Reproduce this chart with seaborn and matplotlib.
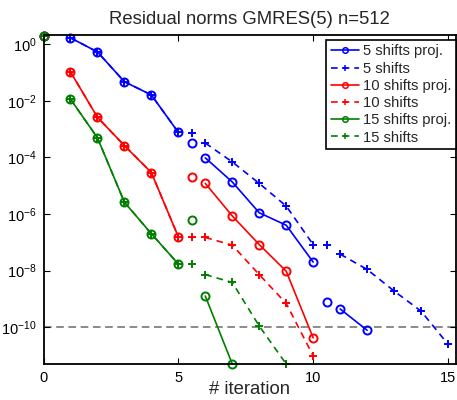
import numpy as np
import pandas as pd
import matplotlib
matplotlib.use("Agg")
import matplotlib.pyplot as plt
from matplotlib.lines import Line2D
from matplotlib.ticker import NullLocator
import seaborn as sns

nan = np.nan

# iteration numbers, NaN marks a break between restart cycles (as in matlab)
it_proj_5 = [0, nan, 1, 2, 3, 4, 5, nan, 5.5, nan, 6, 7, 8, 9, 10, nan, 10.5, nan, 11, 12]
res_proj_5 = [1.9, nan, 1.67, 0.53, 0.047, 0.016, 7.6e-4, nan, 3.1e-4, nan,
              9.6e-5, 1.35e-5, 1.1e-6, 4e-7, 2.0e-8, nan, 7.8e-10, nan, 4.4e-10, 7.8e-11]

it_full_5 = [0, nan, 1, 2, 3, 4, 5, nan, 5.5, nan, 6, 7, 8, 9, 10, nan, 10.5, nan,
             11, 12, 13, 14, 15]
res_full_5 = [1.9, nan, 1.67, 0.53, 0.047, 0.016, 7.6e-4, nan, 7.4e-4, nan,
              3.2e-4, 6.9e-5, 1.2e-5, 1.9e-6, 8.3e-8, nan, 8.3e-8, nan,
              3.8e-8, 1.1e-8, 1.9e-9, 3.7e-10, 2.5e-11]

it_proj_10 = [0, nan, 1, 2, 3, 4, 5, nan, 5.5, nan, 6, 7, 8, 9, 10]
res_proj_10 = [1.9, nan, 0.105, 2.6e-3, 2.6e-4, 2.9e-5, 1.55e-7, nan, 2.0e-5, nan,
               1.2e-5, 8.5e-7, 8.3e-8, 9.5e-9, 4.2e-11]

it_full_10 = [0, nan, 1, 2, 3, 4, 5, nan, 5.5, nan, 6, 7, 8, 9, 10]
res_full_10 = [1.9, nan, 0.105, 2.6e-3, 2.6e-4, 2.9e-5, 1.55e-7, nan, 1.55e-7, nan,
               1.48e-7, 7.9e-8, 7.2e-9, 6.9e-10, 9.7e-12]

it_proj_15 = [0, nan, 1, 2, 3, 4, 5, nan, 5.5, nan, 6, 7]
res_proj_15 = [1.9, nan, 0.0114, 4.9e-4, 2.6e-6, 2.0e-7, 1.7e-8, nan, 6.0e-7, nan,
               1.26e-9, 5e-12]

it_full_15 = [0, nan, 1, 2, 3, 4, 5, nan, 5.5, nan, 6, 7, 8, 9]
res_full_15 = [1.9, nan, 0.0114, 4.9e-4, 2.6e-6, 2.0e-7, 1.7e-8, nan, 1.7e-8, nan,
               7.2e-9, 3.8e-9, 1.1e-10, 5e-12]

tol = 1e-10

labels = ["5 shifts proj.", "5 shifts", "10 shifts proj.", "10 shifts",
          "15 shifts proj.", "15 shifts"]
series = [(it_proj_5, res_proj_5), (it_full_5, res_full_5),
          (it_proj_10, res_proj_10), (it_full_10, res_full_10),
          (it_proj_15, res_proj_15), (it_full_15, res_full_15)]
colors = ["#0000ff", "#0000ff", "#ff0000", "#ff0000", "#007f00", "#007f00"]


def to_frame(it, res):
    it = np.array(it, dtype=float)
    res = np.array(res, dtype=float)
    seg = np.cumsum(np.isnan(it))
    df = pd.DataFrame({"it": it, "res": res, "seg": seg})
    return df.dropna()


sns.set_style("ticks")
plt.rcParams["font.family"] = ["Liberation Sans", "DejaVu Sans"]
plt.rcParams["mathtext.fontset"] = "custom"
plt.rcParams["mathtext.rm"] = "Liberation Sans"
plt.rcParams["mathtext.it"] = "Liberation Sans:italic"

fig = plt.figure(figsize=(4.57, 4.00), dpi=100)
ax = fig.add_axes([0.0952, 0.09, 0.9028, 0.8225])

lw = 1.2
handles = []
for i, ((it, res), lab, col) in enumerate(zip(series, labels, colors)):
    proj = i % 2 == 0
    ls = "-" if proj else (0, (4, 3))
    mk = "o" if proj else "+"
    sns.lineplot(data=to_frame(it, res), x="it", y="res", units="seg",
                 estimator=None, sort=False, ax=ax, legend=False,
                 color=col, linestyle=ls, linewidth=lw, marker=mk,
                 markersize=5.8 if proj else 5.5, markerfacecolor="none",
                 markeredgecolor=col, markeredgewidth=1.4, clip_on=False)
    handles.append(Line2D([], [], color=col, linestyle=ls, linewidth=lw,
                          marker=mk, markersize=4 if proj else 5,
                          markerfacecolor="none", markeredgecolor=col,
                          markeredgewidth=1.1))

ax.axhline(tol, color="0.42", linestyle=(0, (5, 3)), linewidth=1.1, zorder=0)

ax.set_yscale("log")
ax.set_xlim(0, 15.3)
ax.set_ylim(5e-12, 2.1)
ax.set_xticks([0, 5, 10, 15])
ax.set_yticks([1e0, 1e-2, 1e-4, 1e-6, 1e-8, 1e-10])
ax.yaxis.set_minor_locator(NullLocator())
ax.tick_params(direction="in", length=4, width=0.8, top=True, right=True,
               labelsize=10.5, colors="black", pad=5)
for sp in ax.spines.values():
    sp.set_linewidth(1.3)
    sp.set_color("black")
    sp.set_visible(True)

ax.set_title("Residual norms GMRES(5) n=512", fontsize=13.3, pad=8)
ax.set_xlabel("# iteration", fontsize=13.3, labelpad=-2.5)
ax.set_ylabel("")

leg = ax.legend(handles, labels, loc="upper right",
                bbox_to_anchor=(1.0, 1 - 5 / 329), borderaxespad=0,
                fontsize=10.6, frameon=True, fancybox=False, numpoints=1,
                handlelength=1.9, handletextpad=0.3, labelspacing=0.22,
                borderpad=0.3)
leg.get_frame().set_edgecolor("black")
leg.get_frame().set_linewidth(1.2)
leg.get_frame().set_alpha(1)

fig.savefig("out.png", dpi=100)
